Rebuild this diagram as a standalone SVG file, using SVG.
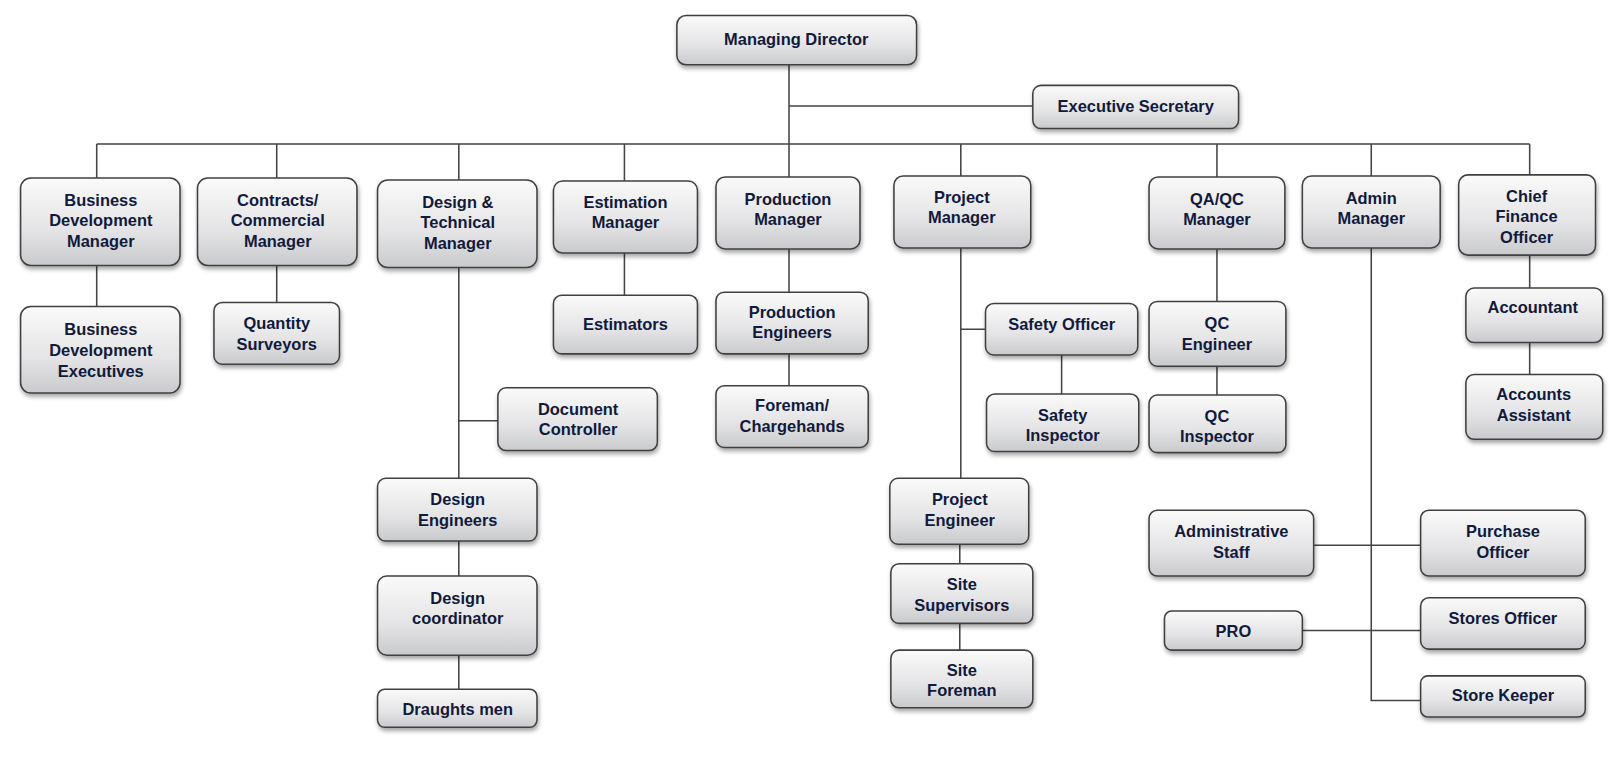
<svg xmlns="http://www.w3.org/2000/svg" width="1613" height="766" viewBox="0 0 1613 766">
<defs>
<linearGradient id="g" x1="0" y1="0" x2="0" y2="1"><stop offset="0" stop-color="#fafafa"/><stop offset="0.6" stop-color="#e4e4e6"/><stop offset="1" stop-color="#c9cacd"/></linearGradient>
<filter id="sh" x="-10%" y="-10%" width="130%" height="140%"><feDropShadow dx="1" dy="3" stdDeviation="2" flood-color="#000" flood-opacity="0.35"/></filter>
</defs>
<style>
.b rect{fill:url(#g);stroke:#404040;stroke-width:1.5;filter:url(#sh)}
.b text{font-family:"Liberation Sans",Arial,sans-serif;font-weight:bold;font-size:16px;fill:#121a3c;text-anchor:middle}
.c path{fill:none;stroke:#444;stroke-width:1.5}
</style>
<rect width="1613" height="766" fill="#fff"/>
<g transform="scale(1.0287)">
<g class="c">
<path d="M767 63V172M767 103H1004M94 140H1487M94 140V173M269 140V173M446 140V175M607 140V176M934 140V171M1183 140V172M1333 140V171M1487 140V170"/>
<path d="M94 258V298M269 258V294M446 260V465M446 409H484M607 246V287M767 242V284M767 344V375M934 241V465M934 320H958M1032 345V383M1183 242V293M1183 356V384M1487 248V280M1487 333V364M446 526V560M446 637V670M933 529V548M933 606V632M1333 241V681H1381M1277 530H1381M1266 613H1381"/>
</g>
<g id="md" class="b"><rect x="658" y="15" width="233" height="48" rx="9"/><text x="774" y="44">Managing Director</text></g>
<g id="es" class="b"><rect x="1004" y="83" width="200" height="42" rx="8"/><text x="1104" y="109">Executive Secretary</text></g>
<g id="bdm" class="b"><rect x="20" y="173" width="155" height="85" rx="10"/><text x="98" y="200">Business<tspan x="98" dy="20">Development</tspan><tspan x="98" dy="20">Manager</tspan></text></g>
<g id="ccm" class="b"><rect x="192" y="173" width="155" height="85" rx="10"/><text x="270" y="200">Contracts/<tspan x="270" dy="20">Commercial</tspan><tspan x="270" dy="20">Manager</tspan></text></g>
<g id="dtm" class="b"><rect x="367" y="175" width="155" height="85" rx="10"/><text x="445" y="202">Design &amp;<tspan x="445" dy="20">Technical</tspan><tspan x="445" dy="20">Manager</tspan></text></g>
<g id="em" class="b"><rect x="538" y="176" width="140" height="70" rx="9"/><text x="608" y="202">Estimation<tspan x="608" dy="20">Manager</tspan></text></g>
<g id="pm" class="b"><rect x="696" y="172" width="140" height="70" rx="9"/><text x="766" y="199">Production<tspan x="766" dy="20">Manager</tspan></text></g>
<g id="prm" class="b"><rect x="869" y="171" width="133" height="70" rx="9"/><text x="935" y="197">Project<tspan x="935" dy="20">Manager</tspan></text></g>
<g id="qa" class="b"><rect x="1117" y="172" width="132" height="70" rx="9"/><text x="1183" y="199">QA/QC<tspan x="1183" dy="20">Manager</tspan></text></g>
<g id="am" class="b"><rect x="1266" y="171" width="134" height="70" rx="9"/><text x="1333" y="198">Admin<tspan x="1333" dy="20">Manager</tspan></text></g>
<g id="cfo" class="b"><rect x="1418" y="170" width="133" height="78" rx="9"/><text x="1484" y="196">Chief<tspan x="1484" dy="20">Finance</tspan><tspan x="1484" dy="20">Officer</tspan></text></g>
<g id="bde" class="b"><rect x="20" y="298" width="155" height="84" rx="10"/><text x="98" y="326">Business<tspan x="98" dy="20">Development</tspan><tspan x="98" dy="20">Executives</tspan></text></g>
<g id="qs" class="b"><rect x="208" y="294" width="122" height="60" rx="8"/><text x="269" y="320">Quantity<tspan x="269" dy="20">Surveyors</tspan></text></g>
<g id="est" class="b"><rect x="538" y="287" width="140" height="57" rx="8"/><text x="608" y="321">Estimators</text></g>
<g id="pe" class="b"><rect x="696" y="284" width="148" height="60" rx="8"/><text x="770" y="309">Production<tspan x="770" dy="20">Engineers</tspan></text></g>
<g id="fm" class="b"><rect x="696" y="375" width="148" height="60" rx="8"/><text x="770" y="400">Foreman/<tspan x="770" dy="20">Chargehands</tspan></text></g>
<g id="so" class="b"><rect x="958" y="295" width="148" height="50" rx="8"/><text x="1032" y="321">Safety Officer</text></g>
<g id="si" class="b"><rect x="959" y="383" width="148" height="56" rx="8"/><text x="1033" y="409">Safety<tspan x="1033" dy="20">Inspector</tspan></text></g>
<g id="qce" class="b"><rect x="1117" y="293" width="133" height="63" rx="8"/><text x="1183" y="320">QC<tspan x="1183" dy="20">Engineer</tspan></text></g>
<g id="qci" class="b"><rect x="1117" y="384" width="133" height="56" rx="8"/><text x="1183" y="410">QC<tspan x="1183" dy="20">Inspector</tspan></text></g>
<g id="acc" class="b"><rect x="1425" y="280" width="133" height="53" rx="8"/><text x="1490" y="304">Accountant</text></g>
<g id="aa" class="b"><rect x="1425" y="364" width="133" height="63" rx="8"/><text x="1491" y="389">Accounts<tspan x="1491" dy="20">Assistant</tspan></text></g>
<g id="dc" class="b"><rect x="484" y="377" width="155" height="61" rx="8"/><text x="562" y="403">Document<tspan x="562" dy="20">Controller</tspan></text></g>
<g id="de" class="b"><rect x="367" y="465" width="155" height="61" rx="8"/><text x="445" y="491">Design<tspan x="445" dy="20">Engineers</tspan></text></g>
<g id="dco" class="b"><rect x="367" y="560" width="155" height="77" rx="9"/><text x="445" y="587">Design<tspan x="445" dy="20">coordinator</tspan></text></g>
<g id="dm" class="b"><rect x="367" y="670" width="155" height="37" rx="7"/><text x="445" y="695">Draughts men</text></g>
<g id="pen" class="b"><rect x="865" y="465" width="135" height="64" rx="8"/><text x="933" y="491">Project<tspan x="933" dy="20">Engineer</tspan></text></g>
<g id="ss" class="b"><rect x="866" y="548" width="138" height="58" rx="8"/><text x="935" y="574">Site<tspan x="935" dy="20">Supervisors</tspan></text></g>
<g id="sf" class="b"><rect x="866" y="632" width="138" height="56" rx="8"/><text x="935" y="657">Site<tspan x="935" dy="20">Foreman</tspan></text></g>
<g id="ast" class="b"><rect x="1117" y="496" width="160" height="64" rx="8"/><text x="1197" y="522">Administrative<tspan x="1197" dy="20">Staff</tspan></text></g>
<g id="po" class="b"><rect x="1381" y="496" width="160" height="64" rx="8"/><text x="1461" y="522">Purchase<tspan x="1461" dy="20">Officer</tspan></text></g>
<g id="pro" class="b"><rect x="1132" y="594" width="134" height="38" rx="7"/><text x="1199" y="619">PRO</text></g>
<g id="sto" class="b"><rect x="1381" y="581" width="160" height="50" rx="8"/><text x="1461" y="607">Stores Officer</text></g>
<g id="sk" class="b"><rect x="1381" y="657" width="160" height="40" rx="7"/><text x="1461" y="681">Store Keeper</text></g>
</g>
</svg>
